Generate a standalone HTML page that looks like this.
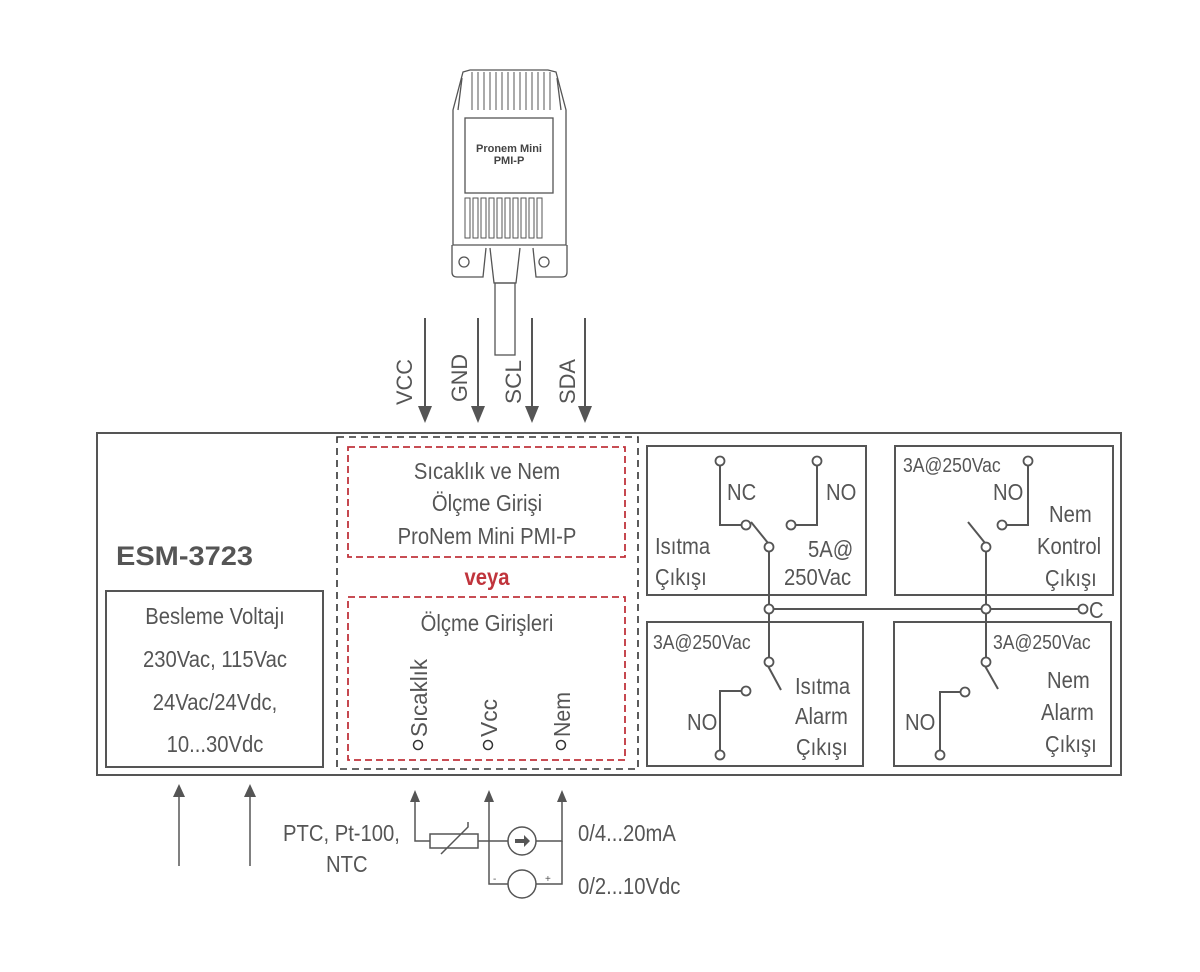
<!DOCTYPE html>
<html><head><meta charset="utf-8"><style>
html,body{margin:0;padding:0;background:#fff}
svg{display:block}
text{font-family:"Liberation Sans Narrow","Liberation Sans",sans-serif;fill:#555}
.c{transform-box:fill-box;transform-origin:left center;transform:scaleX(0.88)}
.cm{transform-box:fill-box;transform-origin:center center;transform:scaleX(0.88)}
</style></head><body>
<svg width="1200" height="972" viewBox="0 0 1200 972" xmlns="http://www.w3.org/2000/svg">
<g stroke="#555" fill="none" stroke-width="1.3">
<path d="M463,72 L470,70 L548,70 L556,72 L566,110 L566,245 L453,245 L453,110 Z"/>
<path d="M458,110 L462,78 M561,110 L557,78"/>
<g stroke-width="1">
<path d="M472,72 V110 M478,72 V110 M484,72 V110 M490,72 V110 M496,72 V110 M502,72 V110 M508,72 V110 M514,72 V110 M520,72 V110 M526,72 V110 M532,72 V110 M538,72 V110 M544,72 V110 M550,72 V110"/>
<rect x="465" y="198" width="5" height="40"/><rect x="473" y="198" width="5" height="40"/><rect x="481" y="198" width="5" height="40"/><rect x="489" y="198" width="5" height="40"/><rect x="497" y="198" width="5" height="40"/><rect x="505" y="198" width="5" height="40"/><rect x="513" y="198" width="5" height="40"/><rect x="521" y="198" width="5" height="40"/><rect x="529" y="198" width="5" height="40"/><rect x="537" y="198" width="5" height="40"/>
</g>
<rect x="465" y="118" width="88" height="75"/>
<path d="M452,245 V272 Q452,277 457,277 H483 L486,248"/>
<path d="M567,245 V272 Q567,277 562,277 H536 L533,248"/>
<circle cx="464" cy="262" r="5"/><circle cx="544" cy="262" r="5"/>
<path d="M490,248 L494,283 H516 L520,248"/>
<rect x="495" y="283" width="20" height="72"/>
</g>
<text x="509" y="152" text-anchor="middle" font-size="11" font-weight="bold" style="fill:#444;font-family:'Liberation Sans',sans-serif">Pronem Mini</text>
<text x="509" y="164" text-anchor="middle" font-size="11" font-weight="bold" style="fill:#444;font-family:'Liberation Sans',sans-serif">PMI-P</text>

<g stroke="#555" stroke-width="2">
<line x1="425" y1="318" x2="425" y2="410"/><line x1="478" y1="318" x2="478" y2="410"/><line x1="532" y1="318" x2="532" y2="410"/><line x1="585" y1="318" x2="585" y2="410"/>
</g>
<g fill="#555"><path d="M418,406 H432 L425,423Z"/><path d="M471,406 H485 L478,423Z"/><path d="M525,406 H539 L532,423Z"/><path d="M578,406 H592 L585,423Z"/></g>
<g font-size="22">
<text transform="translate(412,405) rotate(-90)" textLength="46" lengthAdjust="spacingAndGlyphs">VCC</text>
<text transform="translate(467,402) rotate(-90)" textLength="48" lengthAdjust="spacingAndGlyphs">GND</text>
<text transform="translate(521,404) rotate(-90)" textLength="44" lengthAdjust="spacingAndGlyphs">SCL</text>
<text transform="translate(575,404) rotate(-90)" textLength="45" lengthAdjust="spacingAndGlyphs">SDA</text>
</g>

<rect x="97" y="433" width="1024" height="342" fill="none" stroke="#555" stroke-width="2"/>
<text x="116" y="565" font-size="27" font-weight="bold" textLength="137" lengthAdjust="spacingAndGlyphs" style="fill:#555">ESM-3723</text>
<rect x="106" y="591" width="217" height="176" fill="none" stroke="#555" stroke-width="2"/>
<g font-size="23" text-anchor="middle">
<text x="215" y="624" class="cm">Besleme Voltajı</text>
<text x="215" y="667" class="cm">230Vac, 115Vac</text>
<text x="215" y="710" class="cm">24Vac/24Vdc,</text>
<text x="215" y="752" class="cm">10...30Vdc</text>
</g>

<rect x="337" y="437" width="301" height="332" fill="none" stroke="#333" stroke-width="1.6" stroke-dasharray="7,5"/>
<rect x="348" y="447" width="277" height="110" fill="none" stroke="#c0343c" stroke-width="1.8" stroke-dasharray="7,4"/>
<rect x="348" y="597" width="277" height="163" fill="none" stroke="#c0343c" stroke-width="1.8" stroke-dasharray="7,4"/>
<g font-size="23" text-anchor="middle">
<text x="487" y="479" class="cm">Sıcaklık ve Nem</text>
<text x="487" y="511" class="cm">Ölçme Girişi</text>
<text x="487" y="544" class="cm">ProNem Mini PMI-P</text>
<text x="487" y="631" class="cm">Ölçme Girişleri</text>
</g>
<text x="487" y="585" font-size="23" font-weight="bold" text-anchor="middle" class="cm" style="fill:#c0343c">veya</text>
<g font-size="23">
<text transform="translate(427,737) rotate(-90)" textLength="78" lengthAdjust="spacingAndGlyphs">Sıcaklık</text>
<text transform="translate(497,737) rotate(-90)" textLength="38" lengthAdjust="spacingAndGlyphs">Vcc</text>
<text transform="translate(570,737) rotate(-90)" textLength="45" lengthAdjust="spacingAndGlyphs">Nem</text>
</g>
<g fill="#fff" stroke="#333" stroke-width="1.5">
<circle cx="418" cy="745" r="4.5"/><circle cx="488" cy="745" r="4.5"/><circle cx="561" cy="745" r="4.5"/>
</g>

<g fill="none" stroke="#555" stroke-width="2">
<rect x="647" y="446" width="219" height="149"/>
<rect x="895" y="446" width="218" height="149"/>
<rect x="647" y="622" width="216" height="144"/>
<rect x="894" y="622" width="217" height="144"/>
</g>
<g fill="none" stroke="#555" stroke-width="2">
<path d="M720,465 V525 H742"/><path d="M817,465 V525 H795"/>
<path d="M751,522 L768,543"/>
<path d="M769,551 V658"/><path d="M986,551 V658"/>
<path d="M773,609 H1079"/>
<path d="M1028,465 V525 H1006"/>
<path d="M968,522 L985,543"/>
<path d="M768,666 L781,690"/><path d="M742,691 H720 V751"/>
<path d="M985,666 L998,689"/><path d="M961,692 H940 V751"/>
</g>
<g fill="#fff" stroke="#555" stroke-width="1.8">
<circle cx="720" cy="461" r="4.5"/><circle cx="817" cy="461" r="4.5"/>
<circle cx="746" cy="525" r="4.5"/><circle cx="791" cy="525" r="4.5"/>
<circle cx="769" cy="547" r="4.5"/><circle cx="769" cy="609" r="4.5"/><circle cx="769" cy="662" r="4.5"/>
<circle cx="1028" cy="461" r="4.5"/><circle cx="1002" cy="525" r="4.5"/>
<circle cx="986" cy="547" r="4.5"/><circle cx="986" cy="609" r="4.5"/><circle cx="986" cy="662" r="4.5"/>
<circle cx="1083" cy="609" r="4.5"/>
<circle cx="746" cy="691" r="4.5"/><circle cx="720" cy="755" r="4.5"/>
<circle cx="965" cy="692" r="4.5"/><circle cx="940" cy="755" r="4.5"/>
</g>
<g font-size="23">
<text x="727" y="500" class="c">NC</text><text x="826" y="500" class="c">NO</text>
<text x="655" y="554" class="c">Isıtma</text><text x="655" y="585" class="c">Çıkışı</text>
<text x="808" y="557" class="c">5A@</text><text x="784" y="585" class="c">250Vac</text>
<text x="903" y="472" font-size="20" class="c">3A@250Vac</text>
<text x="993" y="500" class="c">NO</text>
<text x="1049" y="522" class="c">Nem</text><text x="1037" y="554" class="c">Kontrol</text><text x="1045" y="586" class="c">Çıkışı</text>
<text x="1089" y="618" class="c">C</text>
<text x="653" y="649" font-size="20" class="c">3A@250Vac</text>
<text x="687" y="730" class="c">NO</text>
<text x="795" y="694" class="c">Isıtma</text><text x="795" y="724" class="c">Alarm</text><text x="796" y="755" class="c">Çıkışı</text>
<text x="993" y="649" font-size="20" class="c">3A@250Vac</text>
<text x="905" y="730" class="c">NO</text>
<text x="1047" y="688" class="c">Nem</text><text x="1041" y="720" class="c">Alarm</text><text x="1045" y="752" class="c">Çıkışı</text>
</g>

<g stroke="#555" stroke-width="1.5" fill="none">
<line x1="179" y1="866" x2="179" y2="795"/><line x1="250" y1="866" x2="250" y2="795"/>
<path d="M415,800 V841 H430"/><rect x="430" y="834" width="48" height="14"/>
<path d="M478,841 H508"/><path d="M536,841 H562 V800"/>
<path d="M489,800 V884 H508"/><path d="M536,884 H562 V841"/>
<circle cx="522" cy="841" r="14"/><circle cx="522" cy="884" r="14"/>
<path d="M441,854 L468,827 V822"/>
</g>
<g fill="#555">
<path d="M173,797 H185 L179,784Z"/><path d="M244,797 H256 L250,784Z"/>
<path d="M410,802 H420 L415,790Z"/><path d="M484,802 H494 L489,790Z"/><path d="M557,802 H567 L562,790Z"/>
<path d="M515,839 H524 V835 L530,841 L524,847 V843 H515Z"/>
</g>
<text x="493" y="882" font-size="10">-</text><text x="545" y="882" font-size="10">+</text>
<g font-size="23">
<text x="283" y="841" class="c">PTC, Pt-100,</text>
<text x="326" y="872" class="c">NTC</text>
<text x="578" y="841" class="c">0/4...20mA</text>
<text x="578" y="894" class="c">0/2...10Vdc</text>
</g>
</svg>
</body></html>
